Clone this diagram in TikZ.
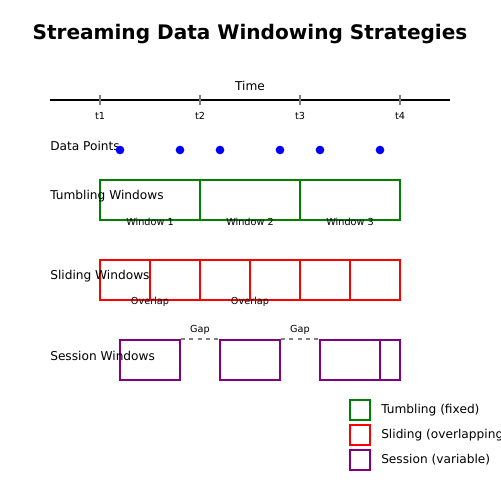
\documentclass[tikz,border=0pt]{standalone}
\usepackage{fontspec}
\setmainfont{DejaVu Sans}
\usepackage{tikz}
\usetikzlibrary{positioning,calc}
\definecolor{tumble}{RGB}{0,128,0}
\definecolor{slide}{RGB}{255,0,0}
\definecolor{session}{RGB}{128,0,128}
\definecolor{point}{RGB}{0,0,255}

\begin{document}
\begin{tikzpicture}[
    x=0.254mm, y=-0.254mm,
    rowlabel/.style={anchor=west,inner sep=0pt,font=\fontsize{8.8}{10}\selectfont},
    small/.style={inner sep=0pt,font=\fontsize{7}{8}\selectfont},
    win/.style={draw,line width=1.4pt,minimum height=10.16mm,inner sep=0pt},
    tumblewin/.style={win,draw=tumble,minimum width=25.4mm},
    slidewin/.style={win,draw=slide,minimum width=25.4mm},
    sessionwin/.style={win,draw=session},
    legendbox/.style={draw,line width=1.4pt,minimum width=5.08mm,minimum height=5.08mm,inner sep=0pt}
  ]
    \useasboundingbox (0,0) rectangle (500,500);
    \node[font=\fontsize{14.5}{17}\selectfont\bfseries] (title) at (250,34) {Streaming Data Windowing Strategies};

    % time axis
    \coordinate (axisL) at (50,100);
    \coordinate (axisR) at (450,100);
    \draw[line width=1.4pt] (axisL) -- (axisR);
    \node[rowlabel,anchor=center] (time) at (250,86) {Time};
    \foreach \i in {1,...,4} {
      \coordinate (tick\i) at (\i*100,100);
      \draw[gray,line width=1pt] ($(tick\i)+(0,-5)$) -- ($(tick\i)+(0,5)$);
      \node[small] (tlabel\i) at (\i*100,116) {t\i};
    }

    % data points
    \node[rowlabel] (pointslabel) at (50,146) {Data Points};
    \foreach \x [count=\k] in {120,180,220,280,320,380}
      \node[circle,fill=point,minimum size=2.2mm,inner sep=0pt] (pt\k) at (\x,150) {};

    % tumbling
    \foreach \k in {1,2,3} {
      \node[tumblewin] (tw\k) at (\k*100+50,200) {};
      \node[small] (twlabel\k) at (\k*100+50,222) {Window \k};
    }
    \node[rowlabel] (tumblelabel) at (50,196) {Tumbling Windows};

    % sliding
    \foreach \k in {1,...,5}
      \node[slidewin] (sw\k) at (100+\k*50,280) {};
    \node[small] (ov1) at (150,302) {Overlap};
    \node[small] (ov2) at (250,302) {Overlap};
    \node[rowlabel] (slidelabel) at (50,276) {Sliding Windows};

    % session
    \node[sessionwin,minimum width=15.24mm] (ss1) at (150,360) {};
    \node[sessionwin,minimum width=15.24mm] (ss2) at (250,360) {};
    \node[sessionwin,minimum width=15.24mm] (ss3) at (350,360) {};
    \node[sessionwin,minimum width=5.08mm] (ss4) at (390,360) {};
    \draw[gray,dashed,line width=1pt] (ss1.north east) -- node[small,above=2.5pt,black] (gap1) {Gap} (ss2.north west);
    \draw[gray,dashed,line width=1pt] (ss2.north east) -- node[small,above=2.5pt,black] (gap2) {Gap} (ss3.north west);
    \node[rowlabel] (sessionlabel) at (50,356) {Session Windows};

    % legend
    \node[legendbox,draw=tumble] (lg1) at (360,410) {};
    \node[legendbox,draw=slide] (lg2) at (360,435) {};
    \node[legendbox,draw=session] (lg3) at (360,460) {};
    \node[rowlabel,right=2.54mm of lg1] (lgt1) {Tumbling (fixed)};
    \node[rowlabel,right=2.54mm of lg2] (lgt2) {Sliding (overlapping)};
    \node[rowlabel,right=2.54mm of lg3] (lgt3) {Session (variable)};
  \end{tikzpicture}
\end{document}
